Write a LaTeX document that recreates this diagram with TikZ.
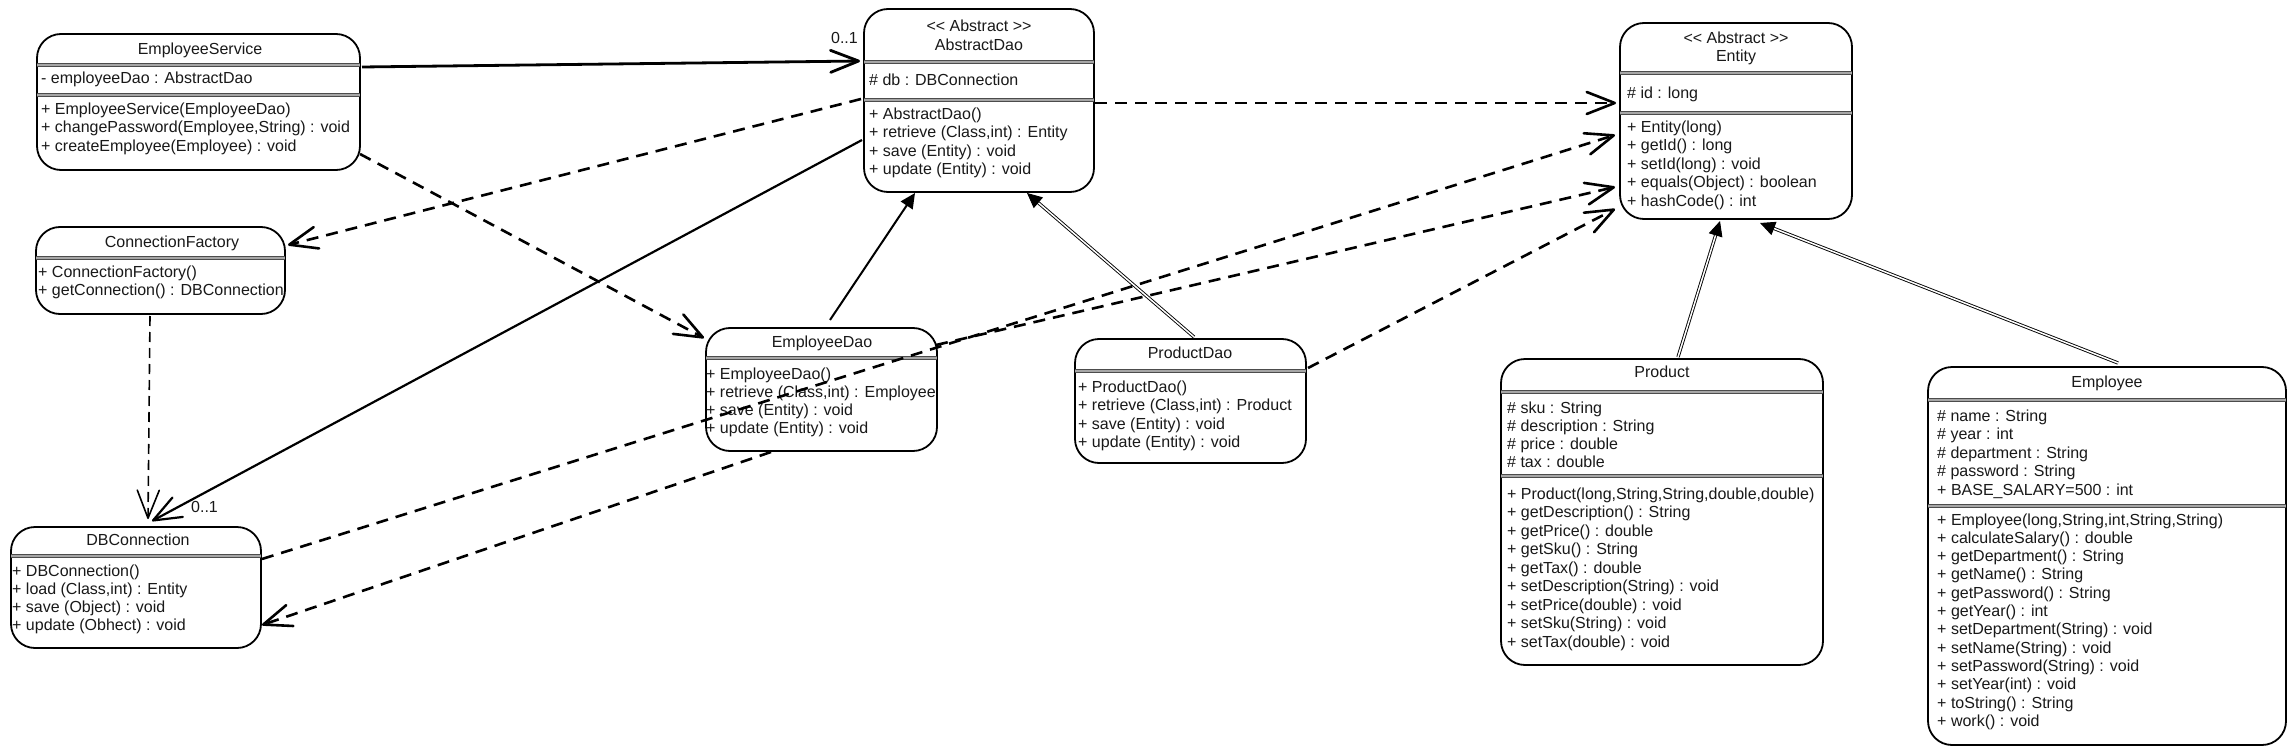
\documentclass[tikz,border=0pt]{standalone}
\usepackage{fontspec}
\setmainfont{Liberation Sans}
\usetikzlibrary{arrows.meta,calc}
\tikzset{
 cls/.style={draw=black, line width=1.8pt, rounded corners=24pt, fill=white, inner sep=0pt, outer sep=0pt},
 sepl/.style={draw=black!70, double=black!35, double distance=1.2pt, line width=1.1pt},
 txt/.style={font=\fontsize{16pt}{19pt}\selectfont, text=black!90, inner sep=0pt, text height=11.5pt, text depth=3.4pt},
 barb/.style={-{Straight Barb[length=28pt,width=22pt,round]}},
 tri/.style={-{Triangle[length=15pt,width=14pt]}},
 solidc/.style={line width=2.2pt, barb},
 dashc/.style={line width=2.6pt, dash pattern=on 12pt off 8pt, barb},
 thindash/.style={line width=1.6pt, dash pattern=on 10pt off 6pt, barb},
 inh/.style={line width=2pt, tri},
 dblinh/.style={double, double distance=1.5pt, line width=0.9pt, tri},
}
\newcommand\umlbox[5]{\node[cls, anchor=north west, minimum width={#4-#2}, minimum height={#5-#3}] (#1) at (#2,#3) {};}
\newcommand\txtlines[5]{\foreach \t [count=\i from 0] in {#5} {\node[txt, anchor=west] (#1\i) at (#2, {#3+\i*#4}) {\t};}}
\newcommand\stereo{<\kern0pt< Abstract >\kern0pt>}
\begin{document}
\begin{tikzpicture}[x=1pt,y=-1pt]
\useasboundingbox (0,0) rectangle (2296,754);
% boxes
\umlbox{es}{37}{34}{360}{170}
\umlbox{ad}{864}{9}{1094}{192}
\umlbox{ent}{1620}{23}{1852}{219}
\umlbox{cf}{36}{227}{285}{314}
\umlbox{db}{11}{527}{261}{648}
\umlbox{ed}{706}{328}{937}{451}
\umlbox{pd}{1075}{339}{1306}{463}
\umlbox{prod}{1501}{359}{1823}{665}
\umlbox{emp}{1928}{367}{2286}{745}
% separators
\draw[sepl] (37,65) -- (360,65);
\draw[sepl] (37,95) -- (360,95);
\draw[sepl] (864,62) -- (1094,62);
\draw[sepl] (864,100) -- (1094,100);
\draw[sepl] (1620,73) -- (1852,73);
\draw[sepl] (1620,113) -- (1852,113);
\draw[sepl] (36,258) -- (285,258);
\draw[sepl] (11,556) -- (261,556);
\draw[sepl] (706,358) -- (937,358);
\draw[sepl] (1075,371) -- (1306,371);
\draw[sepl] (1501,392) -- (1823,392);
\draw[sepl] (1501,476) -- (1823,476);
\draw[sepl] (1928,400) -- (2286,400);
\draw[sepl] (1928,506) -- (2286,506);
% titles
\node[txt] (es-t) at (200,50) {EmployeeService};
\node[txt] (ad-s) at (979,27) {\stereo};
\node[txt] (ad-t) at (979,46) {AbstractDao};
\node[txt] (ent-s) at (1736,39) {\stereo};
\node[txt] (ent-t) at (1736,57) {Entity};
\node[txt] (cf-t) at (172,243) {ConnectionFactory};
\node[txt] (db-t) at (138,541) {DBConnection};
\node[txt] (ed-t) at (822,343) {EmployeeDao};
\node[txt] (pd-t) at (1190,354) {ProductDao};
\node[txt] (prod-t) at (1662,373) {Product};
\node[txt] (emp-t) at (2107,383) {Employee};
% members
\txtlines{esa}{41}{79}{18.5}{{- employeeDao : AbstractDao}}
\txtlines{esm}{41}{110}{18.5}{{+ EmployeeService(EmployeeDao)},{+ changePassword(Employee,String) : void},{+ createEmployee(Employee) : void}}
\txtlines{ada}{869}{81}{18.5}{{\# db : DBConnection}}
\txtlines{adm}{869}{115}{18.6}{{+ AbstractDao()},{+ retrieve (Class,int) : Entity},{+ save (Entity) : void},{+ update (Entity) : void}}
\txtlines{enta}{1627}{94}{18.5}{{\# id : long}}
\txtlines{entm}{1627}{128}{18.5}{{+ Entity(long)},{+ getId() : long},{+ setId(long) : void},{+ equals(Object) : boolean},{+ hashCode() : int}}
\txtlines{cfm}{38}{273}{18.3}{{+ ConnectionFactory()},{+ getConnection() : DBConnection}}
\txtlines{dbm}{12}{572}{18.3}{{+ DBConnection()},{+ load (Class,int) : Entity},{+ save (Object) : void},{+ update (Obhect) : void}}
\txtlines{edm}{706}{375}{18.3}{{+ EmployeeDao()},{+ retrieve (Class,int) : Employee},{+ save (Entity) : void},{+ update (Entity) : void}}
\txtlines{pdm}{1078}{388}{18.6}{{+ ProductDao()},{+ retrieve (Class,int) : Product},{+ save (Entity) : void},{+ update (Entity) : void}}
\txtlines{proda}{1507}{409}{18.2}{{\# sku : String},{\# description : String},{\# price : double},{\# tax : double}}
\txtlines{prodm}{1507}{495}{18.5}{{+ Product(long,String,String,double,double)},{+ getDescription() : String},{+ getPrice() : double},{+ getSku() : String},{+ getTax() : double},{+ setDescription(String) : void},{+ setPrice(double) : void},{+ setSku(String) : void},{+ setTax(double) : void}}
\txtlines{empa}{1937}{417}{18.5}{{\# name : String},{\# year : int},{\# department : String},{\# password : String},{+ BASE\_SALARY=500 : int}}
\txtlines{empm}{1937}{521}{18.3}{{+ Employee(long,String,int,String,String)},{+ calculateSalary() : double},{+ getDepartment() : String},{+ getName() : String},{+ getPassword() : String},{+ getYear() : int},{+ setDepartment(String) : void},{+ setName(String) : void},{+ setPassword(String) : void},{+ setYear(int) : void},{+ toString() : String},{+ work() : void}}
% connector end points
\coordinate (es-r) at (362,67);   \coordinate (ad-l1) at (860,61);
\coordinate (ad-l2) at (861,99);  \coordinate (cf-r) at (288,245);
\coordinate (es-br) at (360,154); \coordinate (ed-l) at (704,338);
\coordinate (ad-l3) at (862,140); \coordinate (db-t1) at (152,521);
\coordinate (cf-b) at (150,316);  \coordinate (db-t2) at (148,519);
\coordinate (ed-top) at (830,320);  \coordinate (ad-b1) at (915,193);
\coordinate (pd-top) at (1194,337); \coordinate (ad-b2) at (1027,193);
\coordinate (ad-r) at (1095,103); \coordinate (ent-l1) at (1616,103);
\coordinate (db-r1) at (262,559); \coordinate (ent-l2) at (1615,135);
\coordinate (ed-r) at (936,345);  \coordinate (ent-l3) at (1615,187);
\coordinate (ed-b) at (771,452);  \coordinate (db-r2) at (262,625);
\coordinate (pd-r) at (1308,368); \coordinate (ent-l4) at (1615,209);
\coordinate (prod-top) at (1678,357); \coordinate (ent-b1) at (1720,221);
\coordinate (emp-top) at (2118,363);  \coordinate (ent-b2) at (1760,223);
% connectors
\draw[solidc, line width=2.8pt] (es-r) -- (ad-l1);
\node[txt, anchor=east] (lab1) at (858,39) {0..1};
\draw[dashc] (ad-l2) -- (cf-r);
\draw[dashc] (es-br) -- (ed-l);
\draw[solidc] (ad-l3) -- (db-t1);
\node[txt, anchor=west] (lab2) at (191,508) {0..1};
\draw[thindash] (cf-b) -- (db-t2);
\draw[inh] (ed-top) -- (ad-b1);
\draw[dblinh] (pd-top) -- (ad-b2);
\draw[dashc] (ad-r) -- (ent-l1);
\draw[dashc] (db-r1) -- (ent-l2);
\draw[dashc] (ed-r) -- (ent-l3);
\draw[dashc] (ed-b) -- (db-r2);
\draw[dashc] (pd-r) -- (ent-l4);
\draw[dblinh] (prod-top) -- (ent-b1);
\draw[dblinh] (emp-top) -- (ent-b2);
\end{tikzpicture}
\end{document}
